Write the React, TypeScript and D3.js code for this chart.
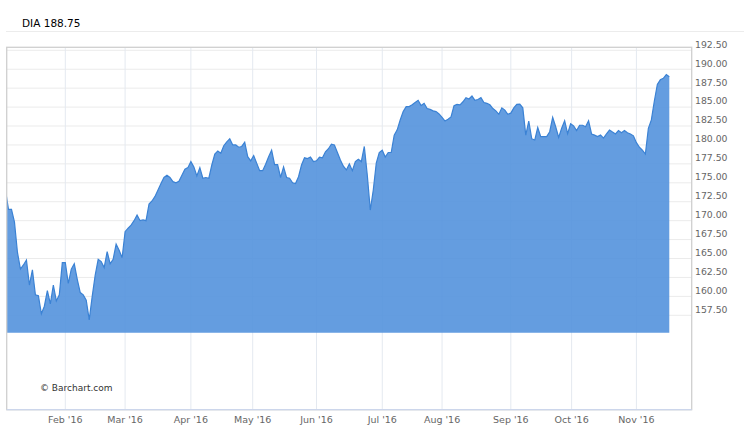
import React from "react";
import * as d3 from "d3";

// DIA daily closes, Dec 31 2015 (index 0, clipped at left edge) .. Nov 16 2016
const prices: number[] = [
  174.0,
  171.5, 171.5, 169.8, 165.8, 163.6, 164.15, 164.8, 161.5, 163.5, 160.2,
  160.1, 157.7, 158.7, 160.75, 159.0, 161.5, 159.4, 160.2, 164.45, 164.45,
  161.7, 163.6, 164.3, 162.25, 160.5, 160.2, 159.5, 156.9, 160.0, 162.8,
  164.9, 164.6, 163.8, 165.9, 164.3, 164.9, 166.9, 166.1, 165.1, 168.55,
  169.0, 169.4, 170.0, 170.75, 170.0, 170.1, 170.0, 172.2, 172.6, 173.2,
  174.05, 174.9, 175.7, 176.0, 175.7, 175.15, 175.0, 175.2, 176.0, 176.8,
  177.0, 177.8, 177.1, 175.9, 177.0, 175.6, 175.7, 175.6, 177.35, 178.8,
  179.2, 178.9, 179.9, 180.4, 180.8, 180.0, 180.0, 179.7, 179.8, 180.35,
  178.45, 177.9, 178.6, 177.6, 176.6, 176.6, 177.45, 178.45, 179.3, 177.4,
  177.4, 175.7, 177.1, 175.7, 175.6, 175.0, 174.9, 175.8, 177.35, 178.3,
  178.2, 178.4, 177.8, 177.9, 178.4, 178.3, 179.1, 179.5, 180.1, 180.0,
  179.0, 178.0, 177.2, 176.7, 177.5, 176.6, 177.8, 178.1, 177.8, 179.8,
  176.0, 171.4, 174.05, 177.6, 179.0, 179.3, 178.4, 179.0, 179.0, 181.3,
  182.0, 183.3, 184.4, 185.06, 185.06, 185.3, 185.6, 185.9, 185.2, 185.5,
  184.8, 184.7, 184.5, 184.4, 184.1, 183.65, 183.16, 183.4, 183.7, 185.2,
  185.36, 185.3, 185.7, 186.24, 186.07, 186.46, 185.9, 186.0, 186.24, 185.6,
  185.5, 185.3, 184.8, 184.5, 184.05, 184.9, 184.6, 184.05, 184.2, 184.9,
  185.36, 185.4, 184.9, 181.3, 183.16, 180.8, 180.65, 182.3, 181.1, 181.1,
  181.1, 181.75, 183.65, 182.4, 181.0, 182.2, 183.2, 181.5, 182.8, 182.5,
  181.9, 182.6, 182.6, 182.4, 183.2, 181.45, 181.3, 181.1, 181.3, 180.9,
  181.45, 181.97, 181.7, 181.45, 181.9, 181.6, 181.9, 181.6, 181.45, 181.2,
  180.3, 179.7, 179.3, 178.8, 182.2, 183.3, 185.8, 188.0, 188.6, 188.8,
  189.3, 189.0,
];

const monthLabels: string[] = ["Feb '16", "Mar '16", "Apr '16", "May '16", "Jun '16", "Jul '16", "Aug '16", "Sep '16", "Oct '16", "Nov '16"];
// position of the 1st of each month on the trading-day axis
const monthPositions: number[] = [20, 40, 62, 82.67, 104, 126, 146, 169, 189.33, 211];

const yTicks: number[] = [192.5, 190, 187.5, 185, 182.5, 180, 177.5, 175, 172.5, 170, 167.5, 165, 162.5, 160, 157.5];

const titleText = "DIA 188.75";
const creditText = "© Barchart.com";

export default function App() {
  const W = 750, H = 433;
  const plotL = 6.7, plotR = 691.7, plotT = 47.3, plotB = 409.7;
  const paneBottom = 332.7;

  const x = d3.scaleLinear().domain([0, prices.length - 1]).range([5.5, 669.3]);
  const y = d3.scaleLinear().domain([157.5, 192.5]).range([315.3, 50.3]);

  const area = d3.area<number>()
    .x((_, i) => x(i))
    .y0(paneBottom)
    .y1((d) => y(d));
  const line = d3.line<number>()
    .x((_, i) => x(i))
    .y((d) => y(d));

  const font = "'DejaVu Sans', Verdana, sans-serif";

  return (
    <svg width={W} height={H} style={{ position: "absolute", left: 0, top: 0, background: "#fff" }}>
      <defs>
        <clipPath id="plotclip">
          <rect x={plotL} y={plotT} width={plotR - plotL} height={plotB - plotT} />
        </clipPath>
      </defs>
      <rect x={0} y={0} width={W} height={H} fill="#fff" />
      <text x={22} y={27} fontFamily={font} fontSize={10.5} fill="#000">{titleText}</text>
      <line x1={6} x2={744} y1={31.5} y2={31.5} stroke="#ececec" strokeWidth={1} />

      {/* horizontal grid */}
      {yTicks.map((t) => (
        <line key={"hg" + t} x1={plotL} x2={plotR} y1={y(t)} y2={y(t)} stroke="#ebebeb" strokeWidth={1} />
      ))}
      {/* vertical grid */}
      {monthPositions.map((p, i) => (
        <line key={"vg" + i} x1={x(p)} x2={x(p)} y1={plotT} y2={plotB} stroke="#e4e9f0" strokeWidth={1} />
      ))}

      <g clipPath="url(#plotclip)">
        <path d={area(prices) || ""} fill="rgb(83,146,221)" fillOpacity={0.9} />
        <path d={line(prices) || ""} fill="none" stroke="#3b82d4" strokeWidth={1.2} />
      </g>

      {/* frame */}
      <rect x={plotL} y={plotT} width={plotR - plotL} height={plotB - plotT} fill="none" stroke="#cfcfcf" strokeWidth={1.3} />
      <line x1={plotL} x2={plotR} y1={plotB} y2={plotB} stroke="#ccd6eb" strokeWidth={1.3} />

      {/* y labels */}
      {yTicks.map((t) => (
        <text key={"yl" + t} x={695} y={y(t) - 2.6} fontFamily={font} fontSize={9.3} fill="#666">
          {t.toFixed(2)}
        </text>
      ))}
      {/* x labels */}
      {monthPositions.map((p, i) => (
        <text key={"xl" + i} x={x(p)} y={422.5} textAnchor="middle" fontFamily={font} fontSize={9.5} fill="#666">
          {monthLabels[i]}
        </text>
      ))}

      <text x={40} y={390.5} fontFamily={font} fontSize={9} fill="#333">{creditText}</text>
    </svg>
  );
}
